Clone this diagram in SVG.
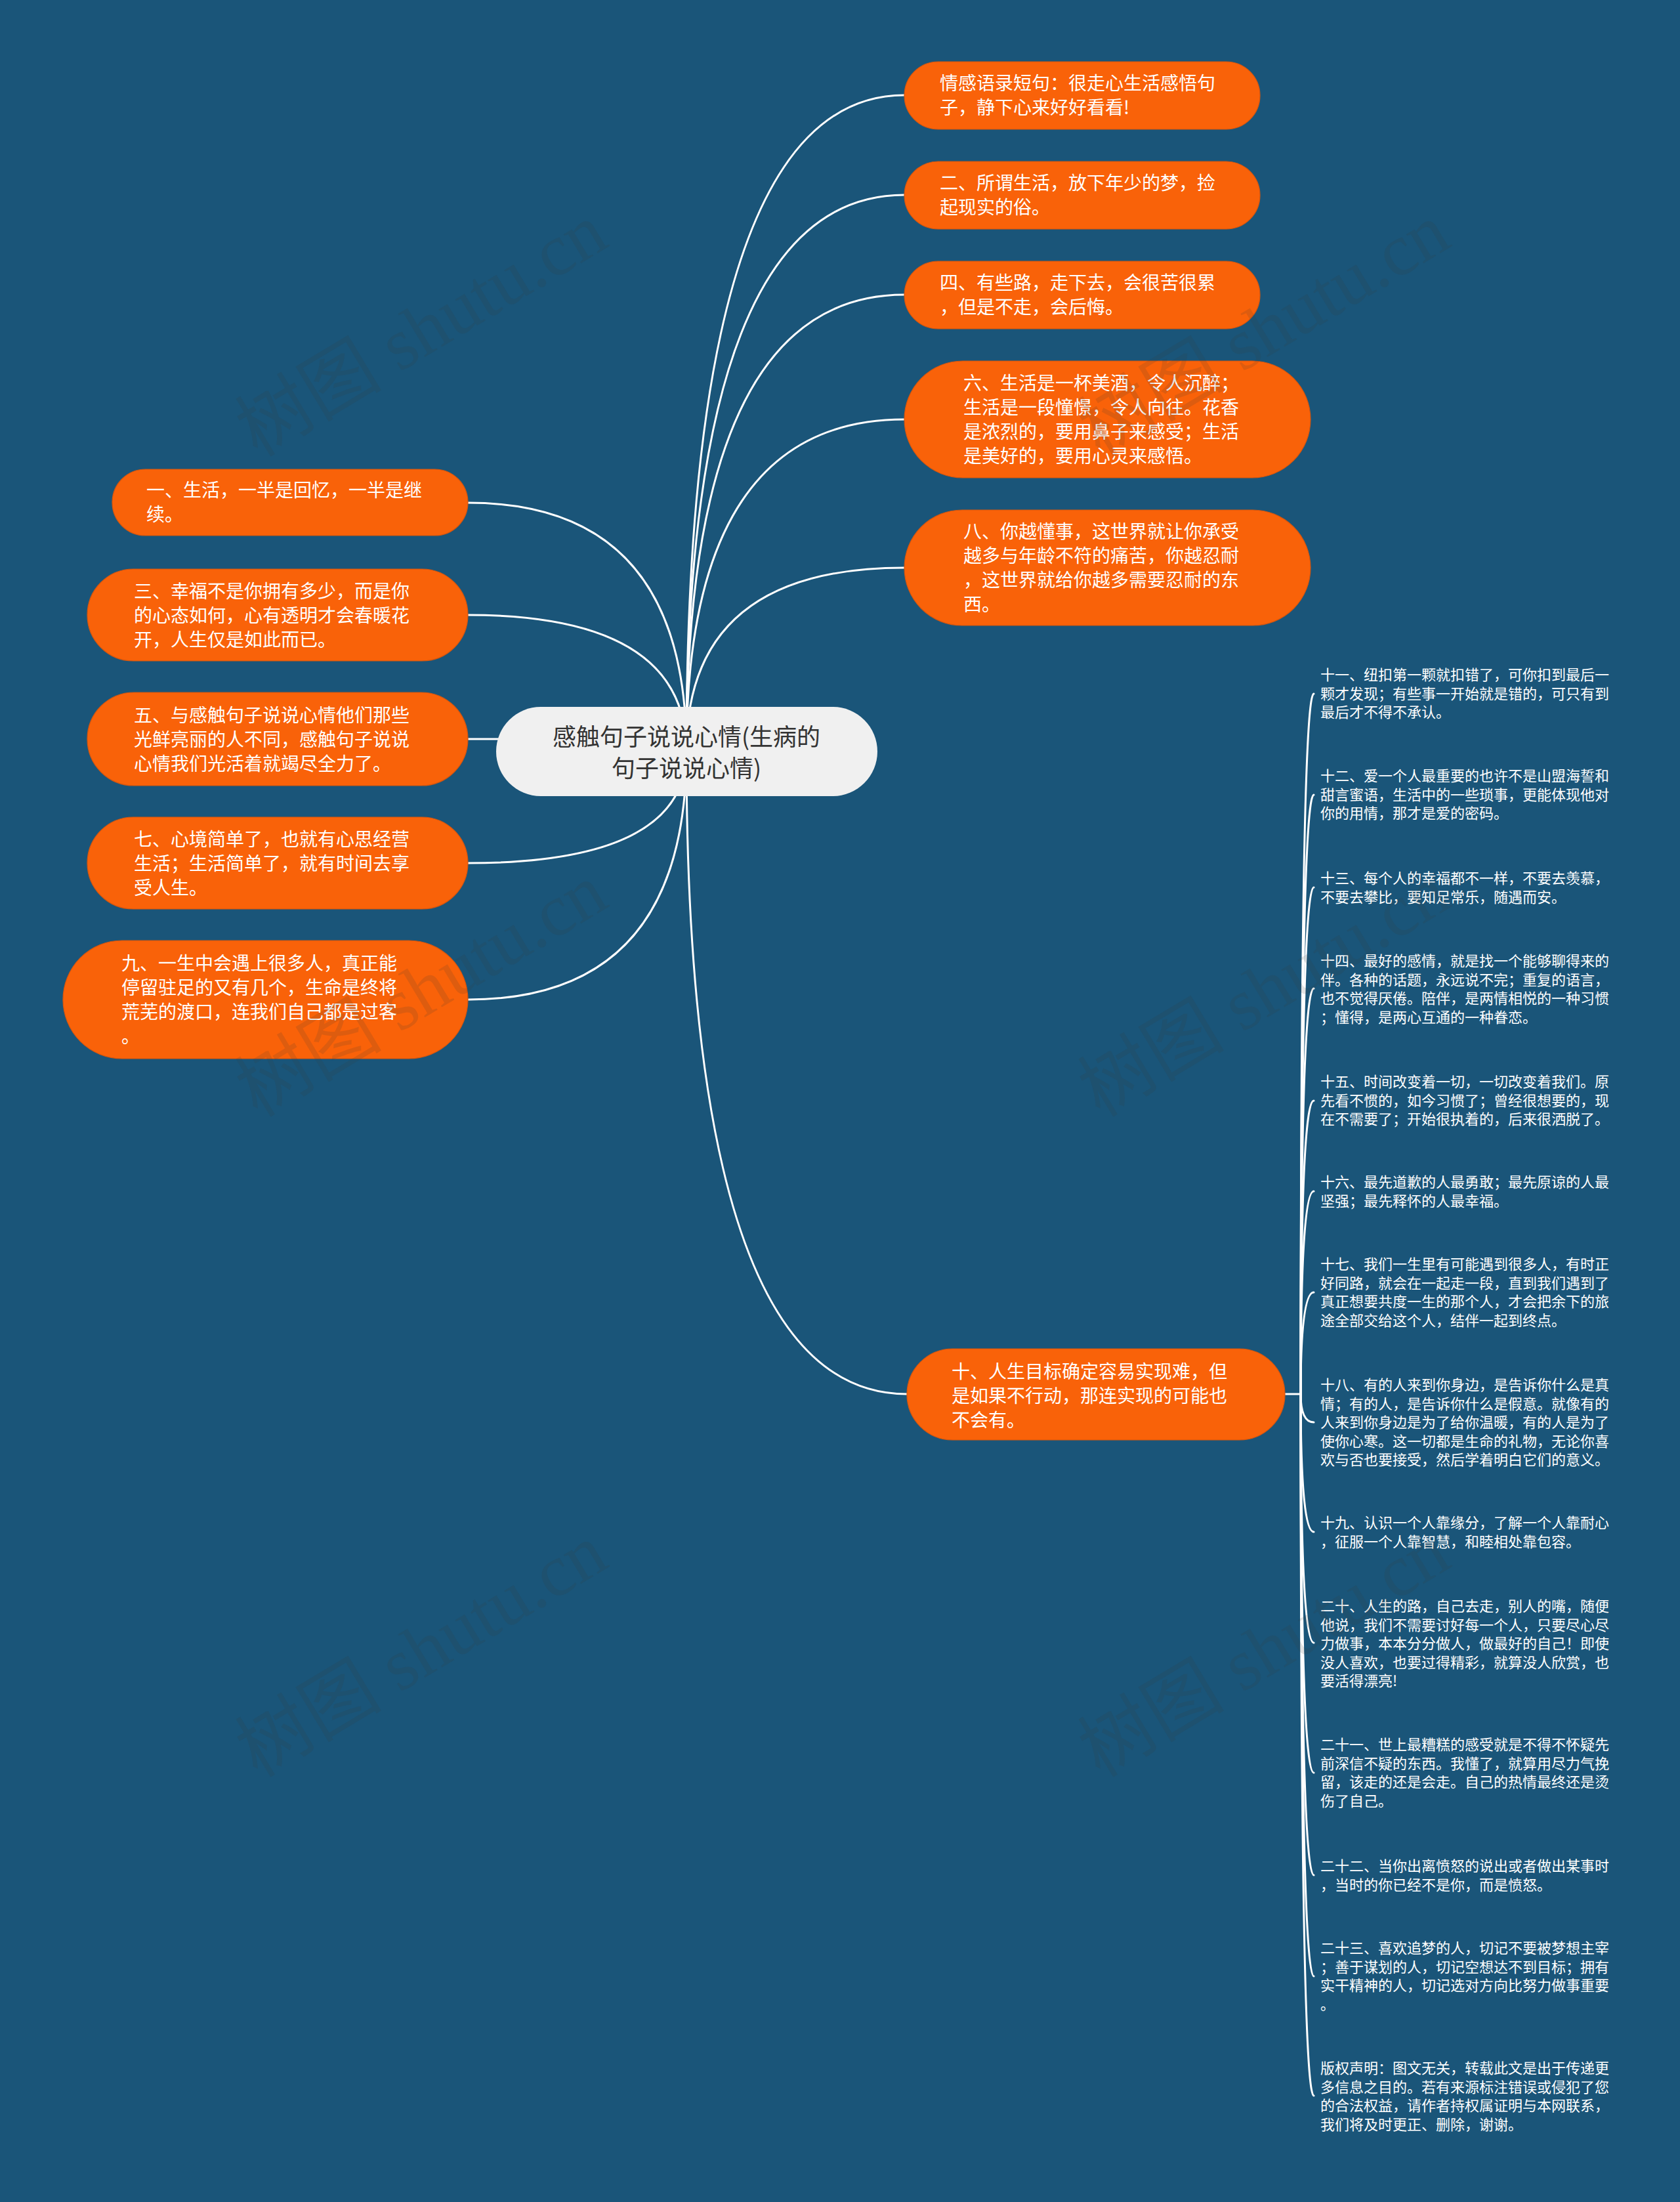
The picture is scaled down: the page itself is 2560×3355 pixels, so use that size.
<svg xmlns="http://www.w3.org/2000/svg" width="2560" height="3355" viewBox="0 0 2560 3355">
<style>
.bg{fill:#1a5579}
.node{fill:#f96209;stroke:#d8560d;stroke-width:1.2}
.root{fill:#f0f0f0}
.nt{font-family:"Noto Sans CJK SC","Noto Sans",sans-serif;font-size:28px;fill:#ffffff}
.rt{font-family:"Noto Sans CJK SC","Noto Sans",sans-serif;font-size:36px;fill:#333333;text-anchor:middle}
.st{font-family:"Noto Sans CJK SC","Noto Sans",sans-serif;font-size:22px;fill:#ffffff}
.ln{fill:none;stroke:#ffffff;stroke-width:3;stroke-linecap:round}
.wm{font-family:"Liberation Serif","Noto Sans CJK SC",serif;font-size:112px;fill:#3a3a3a;fill-opacity:0.14}
</style>
<rect class="bg" x="0" y="0" width="2560" height="3355"/>

<g id="connectors">
<path class="ln" d="M1046,1145 Q1046,145 1378,145"/>
<path class="ln" d="M1046,1145 Q1046,297 1378,297"/>
<path class="ln" d="M1046,1145 Q1046,449 1378,449"/>
<path class="ln" d="M1046,1145 Q1046,639 1378,639"/>
<path class="ln" d="M1046,1145 Q1046,865 1378,865"/>
<path class="ln" d="M1046,1145 Q1046,2124 1382,2124"/>
<path class="ln" d="M1046,1145 Q1046,766 713,766"/>
<path class="ln" d="M1046,1145 Q1046,937 713,937"/>
<path class="ln" d="M1046,1145 Q1046,1126 713,1126"/>
<path class="ln" d="M1046,1145 Q1046,1315 713,1315"/>
<path class="ln" d="M1046,1145 Q1046,1523 713,1523"/>
<path class="ln" d="M1958,2124 L1982,2124"/>
<path class="ln" d="M1982,2124 Q1982,1057 2002,1057"/>
<path class="ln" d="M1982,2124 Q1982,1211 2002,1211"/>
<path class="ln" d="M1982,2124 Q1982,1352 2002,1352"/>
<path class="ln" d="M1982,2124 Q1982,1506 2002,1506"/>
<path class="ln" d="M1982,2124 Q1982,1677 2002,1677"/>
<path class="ln" d="M1982,2124 Q1982,1815 2002,1815"/>
<path class="ln" d="M1982,2124 Q1982,1969 2002,1969"/>
<path class="ln" d="M1982,2124 Q1982,2167 2002,2167"/>
<path class="ln" d="M1982,2124 Q1982,2334 2002,2334"/>
<path class="ln" d="M1982,2124 Q1982,2503 2002,2503"/>
<path class="ln" d="M1982,2124 Q1982,2701 2002,2701"/>
<path class="ln" d="M1982,2124 Q1982,2857 2002,2857"/>
<path class="ln" d="M1982,2124 Q1982,3011 2002,3011"/>
<path class="ln" d="M1982,2124 Q1982,3193 2002,3193"/>
</g>

<g id="root">
<rect class="root" x="756" y="1077" width="581" height="136" rx="68" ry="68"/>
<text class="rt" x="1046" y="1136">感触句子说说心情(生病的</text>
<text class="rt" x="1046" y="1184">句子说说心情)</text>
</g>

<g id="n-r1">
<rect class="node" x="1378" y="94" width="542" height="103" rx="51.5"/>
<text class="nt" x="1432" y="137"><tspan x="1432">情感语录短句：很走心生活感悟句</tspan><tspan x="1432" dy="37">子，静下心来好好看看!</tspan></text>
</g>
<g id="n-r2">
<rect class="node" x="1378" y="246" width="542" height="103" rx="51.5"/>
<text class="nt" x="1432" y="289"><tspan x="1432">二、所谓生活，放下年少的梦，捡</tspan><tspan x="1432" dy="37">起现实的俗。</tspan></text>
</g>
<g id="n-r3">
<rect class="node" x="1378" y="398" width="542" height="103" rx="51.5"/>
<text class="nt" x="1432" y="441"><tspan x="1432">四、有些路，走下去，会很苦很累</tspan><tspan x="1432" dy="37">，但是不走，会后悔。</tspan></text>
</g>
<g id="n-r4">
<rect class="node" x="1378" y="550" width="619" height="178" rx="89"/>
<text class="nt" x="1468" y="594"><tspan x="1468">六、生活是一杯美酒，令人沉醉；</tspan><tspan x="1468" dy="37">生活是一段憧憬，令人向往。花香</tspan><tspan x="1468" dy="37">是浓烈的，要用鼻子来感受；生活</tspan><tspan x="1468" dy="37">是美好的，要用心灵来感悟。</tspan></text>
</g>
<g id="n-r5">
<rect class="node" x="1378" y="777" width="619" height="176" rx="88"/>
<text class="nt" x="1468" y="820"><tspan x="1468">八、你越懂事，这世界就让你承受</tspan><tspan x="1468" dy="37">越多与年龄不符的痛苦，你越忍耐</tspan><tspan x="1468" dy="37">，这世界就给你越多需要忍耐的东</tspan><tspan x="1468" dy="37">西。</tspan></text>
</g>

<g id="n-l1">
<rect class="node" x="171" y="715" width="542" height="101" rx="50.5"/>
<text class="nt" x="223" y="757"><tspan x="223">一、生活，一半是回忆，一半是继</tspan><tspan x="223" dy="37">续。</tspan></text>
</g>
<g id="n-l3">
<rect class="node" x="133" y="867" width="580" height="140" rx="70"/>
<text class="nt" x="204" y="911"><tspan x="204">三、幸福不是你拥有多少，而是你</tspan><tspan x="204" dy="37">的心态如何，心有透明才会春暖花</tspan><tspan x="204" dy="37">开，人生仅是如此而已。</tspan></text>
</g>
<g id="n-l5">
<rect class="node" x="133" y="1055" width="580" height="142" rx="71"/>
<text class="nt" x="204" y="1100"><tspan x="204">五、与感触句子说说心情他们那些</tspan><tspan x="204" dy="37">光鲜亮丽的人不同，感触句子说说</tspan><tspan x="204" dy="37">心情我们光活着就竭尽全力了。</tspan></text>
</g>
<g id="n-l7">
<rect class="node" x="133" y="1245" width="580" height="140" rx="70"/>
<text class="nt" x="204" y="1289"><tspan x="204">七、心境简单了，也就有心思经营</tspan><tspan x="204" dy="37">生活；生活简单了，就有时间去享</tspan><tspan x="204" dy="37">受人生。</tspan></text>
</g>
<g id="n-l9">
<rect class="node" x="96" y="1433" width="617" height="180" rx="90"/>
<text class="nt" x="185" y="1478"><tspan x="185">九、一生中会遇上很多人，真正能</tspan><tspan x="185" dy="37">停留驻足的又有几个，生命是终将</tspan><tspan x="185" dy="37">荒芜的渡口，连我们自己都是过客</tspan><tspan x="185" dy="37">。</tspan></text>
</g>

<g id="n-r10">
<rect class="node" x="1382" y="2055" width="576" height="139" rx="69.5"/>
<text class="nt" x="1450" y="2100"><tspan x="1450">十、人生目标确定容易实现难，但</tspan><tspan x="1450" dy="37">是如果不行动，那连实现的可能也</tspan><tspan x="1450" dy="37">不会有。</tspan></text>
</g>

<g id="n-11"><text class="st" x="2012" y="1036"><tspan x="2012">十一、纽扣第一颗就扣错了，可你扣到最后一</tspan><tspan x="2012" dy="28.6">颗才发现；有些事一开始就是错的，可只有到</tspan><tspan x="2012" dy="28.6">最后才不得不承认。</tspan></text></g>
<g id="n-12"><text class="st" x="2012" y="1190"><tspan x="2012">十二、爱一个人最重要的也许不是山盟海誓和</tspan><tspan x="2012" dy="28.6">甜言蜜语，生活中的一些琐事，更能体现他对</tspan><tspan x="2012" dy="28.6">你的用情，那才是爱的密码。</tspan></text></g>
<g id="n-13"><text class="st" x="2012" y="1346"><tspan x="2012">十三、每个人的幸福都不一样，不要去羡慕，</tspan><tspan x="2012" dy="28.6">不要去攀比，要知足常乐，随遇而安。</tspan></text></g>
<g id="n-14"><text class="st" x="2012" y="1472"><tspan x="2012">十四、最好的感情，就是找一个能够聊得来的</tspan><tspan x="2012" dy="28.6">伴。各种的话题，永远说不完；重复的语言，</tspan><tspan x="2012" dy="28.6">也不觉得厌倦。陪伴，是两情相悦的一种习惯</tspan><tspan x="2012" dy="28.6">；懂得，是两心互通的一种眷恋。</tspan></text></g>
<g id="n-15"><text class="st" x="2012" y="1656"><tspan x="2012">十五、时间改变着一切，一切改变着我们。原</tspan><tspan x="2012" dy="28.6">先看不惯的，如今习惯了；曾经很想要的，现</tspan><tspan x="2012" dy="28.6">在不需要了；开始很执着的，后来很洒脱了。</tspan></text></g>
<g id="n-16"><text class="st" x="2012" y="1809"><tspan x="2012">十六、最先道歉的人最勇敢；最先原谅的人最</tspan><tspan x="2012" dy="28.6">坚强；最先释怀的人最幸福。</tspan></text></g>
<g id="n-17"><text class="st" x="2012" y="1934"><tspan x="2012">十七、我们一生里有可能遇到很多人，有时正</tspan><tspan x="2012" dy="28.6">好同路，就会在一起走一段，直到我们遇到了</tspan><tspan x="2012" dy="28.6">真正想要共度一生的那个人，才会把余下的旅</tspan><tspan x="2012" dy="28.6">途全部交给这个人，结伴一起到终点。</tspan></text></g>
<g id="n-18"><text class="st" x="2012" y="2118"><tspan x="2012">十八、有的人来到你身边，是告诉你什么是真</tspan><tspan x="2012" dy="28.6">情；有的人，是告诉你什么是假意。就像有的</tspan><tspan x="2012" dy="28.6">人来到你身边是为了给你温暖，有的人是为了</tspan><tspan x="2012" dy="28.6">使你心寒。这一切都是生命的礼物，无论你喜</tspan><tspan x="2012" dy="28.6">欢与否也要接受，然后学着明白它们的意义。</tspan></text></g>
<g id="n-19"><text class="st" x="2012" y="2328"><tspan x="2012">十九、认识一个人靠缘分，了解一个人靠耐心</tspan><tspan x="2012" dy="28.6">，征服一个人靠智慧，和睦相处靠包容。</tspan></text></g>
<g id="n-20"><text class="st" x="2012" y="2455"><tspan x="2012">二十、人生的路，自己去走，别人的嘴，随便</tspan><tspan x="2012" dy="28.6">他说，我们不需要讨好每一个人，只要尽心尽</tspan><tspan x="2012" dy="28.6">力做事，本本分分做人，做最好的自己！即使</tspan><tspan x="2012" dy="28.6">没人喜欢，也要过得精彩，就算没人欣赏，也</tspan><tspan x="2012" dy="28.6">要活得漂亮!</tspan></text></g>
<g id="n-21"><text class="st" x="2012" y="2666"><tspan x="2012">二十一、世上最糟糕的感受就是不得不怀疑先</tspan><tspan x="2012" dy="28.6">前深信不疑的东西。我懂了，就算用尽力气挽</tspan><tspan x="2012" dy="28.6">留，该走的还是会走。自己的热情最终还是烫</tspan><tspan x="2012" dy="28.6">伤了自己。</tspan></text></g>
<g id="n-22"><text class="st" x="2012" y="2851"><tspan x="2012">二十二、当你出离愤怒的说出或者做出某事时</tspan><tspan x="2012" dy="28.6">，当时的你已经不是你，而是愤怒。</tspan></text></g>
<g id="n-23"><text class="st" x="2012" y="2976"><tspan x="2012">二十三、喜欢追梦的人，切记不要被梦想主宰</tspan><tspan x="2012" dy="28.6">；善于谋划的人，切记空想达不到目标；拥有</tspan><tspan x="2012" dy="28.6">实干精神的人，切记选对方向比努力做事重要</tspan><tspan x="2012" dy="28.6">。</tspan></text></g>
<g id="n-copy"><text class="st" x="2012" y="3159"><tspan x="2012">版权声明：图文无关，转载此文是出于传递更</tspan><tspan x="2012" dy="28.6">多信息之目的。若有来源标注错误或侵犯了您</tspan><tspan x="2012" dy="28.6">的合法权益，请作者持权属证明与本网联系，</tspan><tspan x="2012" dy="28.6">我们将及时更正、删除，谢谢。</tspan></text></g>

<g id="watermarks">
<text class="wm" transform="translate(642,503) rotate(-31)" text-anchor="middle" y="38">树图 shutu.cn</text>
<text class="wm" transform="translate(642,1509) rotate(-31)" text-anchor="middle" y="38">树图 shutu.cn</text>
<text class="wm" transform="translate(642,2515) rotate(-31)" text-anchor="middle" y="38">树图 shutu.cn</text>
<text class="wm" transform="translate(1926,503) rotate(-31)" text-anchor="middle" y="38">树图 shutu.cn</text>
<text class="wm" transform="translate(1926,1509) rotate(-31)" text-anchor="middle" y="38">树图 shutu.cn</text>
<text class="wm" transform="translate(1926,2515) rotate(-31)" text-anchor="middle" y="38">树图 shutu.cn</text>
</g>
</svg>
